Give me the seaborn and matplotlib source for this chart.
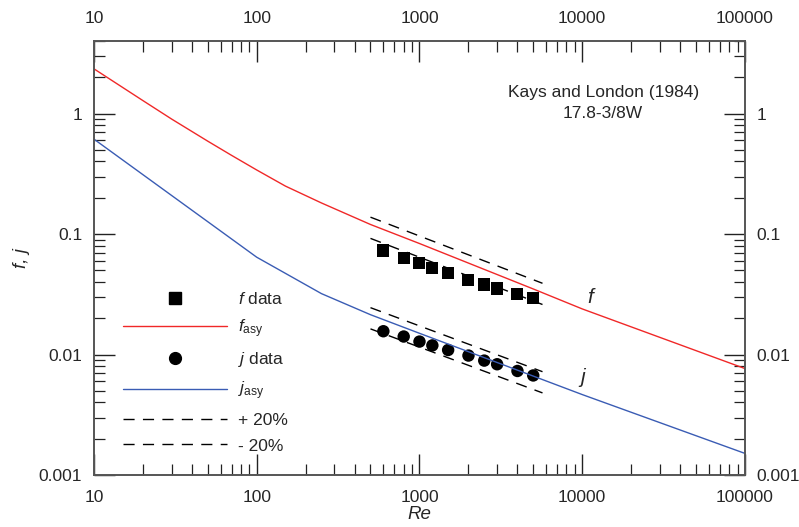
import numpy as np
import pandas as pd
import seaborn as sns
import matplotlib.pyplot as plt
from matplotlib.lines import Line2D

# measured data (Kays and London 17.8-3/8W)
re_data = [600, 800, 1000, 1200, 1500, 2000, 2500, 3000, 4000, 5000]
f_data = [0.0730, 0.0638, 0.0580, 0.0527, 0.0479, 0.0419, 0.0381, 0.0353, 0.0315, 0.0292]
j_data = [0.0156, 0.0141, 0.0128, 0.0119, 0.0109, 0.0098, 0.0089, 0.0083, 0.0073, 0.0067]

# asymptotic model curves
re_f_asy = [10, 20, 30, 50, 70, 100, 150, 250, 500, 1000, 5000, 10000, 100000]
f_asy = [2.35, 1.28, 0.90, 0.59, 0.45, 0.34, 0.25, 0.181, 0.120, 0.0834, 0.0350, 0.0239, 0.00764]
re_j_asy = [10, 100, 250, 500, 1000, 5000, 10000, 100000]
j_asy = [0.613, 0.0642, 0.0320, 0.0214, 0.0150, 0.00662, 0.00465, 0.00151]

# +/- 20 % bands around the model
re_band = [500, 5700]
f_band = [0.115, 0.0325]
j_band = [0.0204, 0.0060]

sns.set_style("ticks")
plt.rcParams['font.family'] = ['Liberation Sans', 'DejaVu Sans']
plt.rcParams['mathtext.fontset'] = 'custom'
plt.rcParams['mathtext.rm'] = 'Liberation Sans'
plt.rcParams['mathtext.it'] = 'Liberation Sans:italic'

red = '#f02828'
blue = '#3a5cb4'
fs = 12.5

fig = plt.figure(figsize=(7.99, 5.27), dpi=100)
ax = fig.add_axes([0.1176, 0.0987, 0.8148, 0.8235])

sns.lineplot(x=re_f_asy, y=f_asy, color=red, lw=1.0, ax=ax, sort=False)
sns.lineplot(x=re_j_asy, y=j_asy, color=blue, lw=1.0, ax=ax, sort=False)

band = pd.DataFrame({"Re": re_band * 4,
                     "v": [v * 1.2 for v in f_band] + [v * 0.8 for v in f_band]
                          + [v * 1.2 for v in j_band] + [v * 0.8 for v in j_band],
                     "g": ["fp"] * 2 + ["fm"] * 2 + ["jp"] * 2 + ["jm"] * 2})
for g, sub in band.groupby("g"):
    ax.plot(sub["Re"], sub["v"], color='black', lw=1.0, dashes=(8, 6))

sns.scatterplot(x=re_data, y=f_data, marker='s', s=75, color='black',
                edgecolor='none', ax=ax)
sns.scatterplot(x=re_data, y=j_data, marker='o', s=80, color='black',
                edgecolor='none', ax=ax)

ax.set_xscale('log')
ax.set_yscale('log')
ax.set_xlim(10, 100000)
ax.set_ylim(0.001, 4)
ax.set_xticks([10, 100, 1000, 10000, 100000])
ax.set_xticklabels(['10', '100', '1000', '10000', '100000'])
ax.set_yticks([0.001, 0.01, 0.1, 1])
ax.set_yticklabels(['0.001', '0.01', '0.1', '1'])

ax.tick_params(which='both', direction='in', top=True, right=True,
               labeltop=True, labelright=True, labelsize=fs, color='#222222')
ax.tick_params(which='major', length=15, width=1.0)
ax.tick_params(which='minor', length=8, width=0.9)
ax.tick_params(axis='x', which='major', pad=10.5)
ax.tick_params(axis='y', which='major', pad=8.5)
for sp in ax.spines.values():
    sp.set_color('#555555')
    sp.set_linewidth(1.4)

ax.set_xlabel('Re', fontsize=13.5, style='italic', labelpad=1)
ax.set_ylabel('f, j', fontsize=13.5, style='italic', labelpad=6)

ax.text(0.782, 0.882, 'Kays and London (1984)', transform=ax.transAxes,
        ha='center', va='center', fontsize=fs)
ax.text(0.782, 0.834, '17.8-3/8W', transform=ax.transAxes,
        ha='center', va='center', fontsize=fs)
ax.text(11170, 0.0296, 'f', fontsize=15, style='italic', ha='center', va='center')
ax.text(10120, 0.00644, 'j', fontsize=15, style='italic', ha='center', va='center')

handles = [
    Line2D([], [], ls='none', marker='s', ms=8, color='black'),
    Line2D([], [], color=red, lw=1.0),
    Line2D([], [], ls='none', marker='o', ms=8.5, color='black'),
    Line2D([], [], color=blue, lw=1.0),
    Line2D([], [], color='black', lw=1.0, dashes=(8, 6)),
    Line2D([], [], color='black', lw=1.0, dashes=(8, 6)),
]
labels = [r'$f$ data', r'$f_{\rm asy}$', r'$j$ data', r'$j_{\rm asy}$', '+ 20%', '- 20%']
ax.legend(handles, labels, loc='upper left', bbox_to_anchor=(0.034, 0.44),
          frameon=False, fontsize=fs, handlelength=6.0, handletextpad=0.65,
          labelspacing=0.6, borderaxespad=0)

fig.savefig('out.png', dpi=100)
